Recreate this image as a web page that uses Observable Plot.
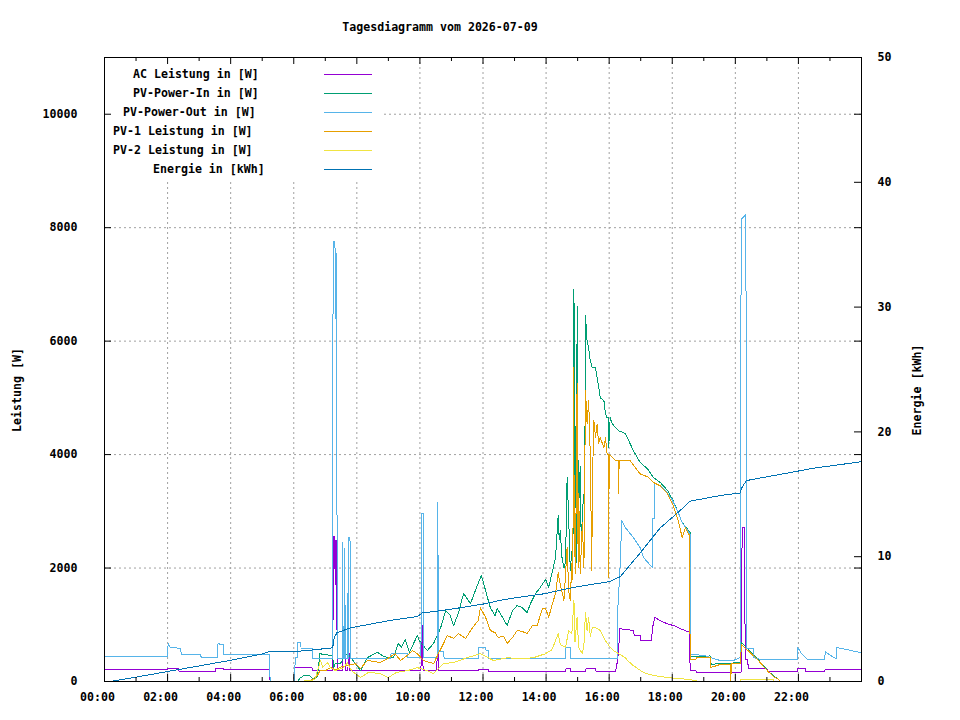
<!DOCTYPE html>
<html>
<head>
<meta charset="utf-8">
<script src="https://cdn.jsdelivr.net/npm/d3@7"></script>
<script src="https://cdn.jsdelivr.net/npm/@observablehq/plot@0.6"></script>
<style>
  body { margin: 0; background: #fff; }
  #chart { width: 960px; height: 720px; }
</style>
</head>
<body>
<div id="chart"></div>
<script>
// ---------- texts ----------
const title = "Tagesdiagramm vom 2026-07-09";
const yLabel = "Leistung [W]";
const y2Label = "Energie [kWh]";
const seriesNames = ["AC Leistung in [W]", "PV-Power-In in [W]", "PV-Power-Out in [W]",
                     "PV-1 Leistung in [W]", "PV-2 Leistung in [W]", "Energie in [kWh]"];

// ---------- tick values ----------
const leftTicks = [0, 2000, 4000, 6000, 8000, 10000];
const rightTicks = [0, 10, 20, 30, 40, 50];
const hourLabels = [0, 2, 4, 6, 8, 10, 12, 14, 16, 18, 20, 22];
const gridHours = [2, 4, 6, 8, 10, 12, 14, 16, 18, 20, 22, 24];
const minorHours = [1, 3, 5, 7, 9, 11, 13, 15, 17, 19, 21, 23];

// ---------- data [time, value] ----------
const acLeistung = [
["00:00",210],["02:00",210],["02:01",235],["02:21",235],["02:22",175],["03:31",175],["03:32",235],["03:46",235],["03:47",210],["05:14",210],["05:15",0],["06:01",0],["06:02",240],["06:35",240],["06:36",190],["07:14",190],["07:15",2550],["07:16",1100],["07:17",2550],["07:19",2480],["07:20",1700],["07:21",2480],["07:22",1200],["07:23",200],["07:33",200],["07:34",810],["07:37",780],["07:38",200],["07:43",200],["07:44",490],["07:46",490],["07:47",190],["10:02",190],["10:03",990],["10:05",990],["10:06",190],["10:32",190],["10:33",510],["10:35",510],["10:36",190],["11:51",190],["11:52",220],["12:10",220],["12:11",175],["14:37",180],["14:38",230],["14:46",230],["14:47",180],["15:15",180],["15:16",230],["15:34",230],["15:35",180],["16:12",180],["16:15",320],["16:18",545],["16:20",930],["16:46",900],["16:48",810],["16:59",810],["17:00",720],["17:21",720],["17:22",930],["17:27",1130],["17:37",1075],["17:51",1015],["18:05",980],["18:15",930],["18:33",870],["18:34",190],["18:45",190],["18:46",165],["20:11",165],["20:12",1430],["20:13",2710],["20:17",2710],["20:18",1450],["20:19",390],["20:23",390],["20:25",230],["21:00",230],["21:01",180],["21:58",180],["21:59",235],["22:13",235],["22:14",180],["22:50",180],["22:51",210],["23:58",210]
];
const pvPowerIn = [
["00:00",0],["06:07",0],["06:12",60],["06:20",110],["06:30",100],["06:38",40],["06:45",80],["06:50",500],["06:55",470],["07:04",470],["07:14",450],["07:16",250],["07:19",320],["07:29",320],["07:35",420],["07:42",490],["07:53",370],["08:07",190],["08:20",420],["08:39",515],["08:50",450],["08:58",420],["09:10",430],["09:19",670],["09:25",600],["09:32",740],["09:40",510],["09:55",810],["09:59",720],["10:14",545],["10:26",670],["10:39",935],["10:49",1250],["10:58",1160],["11:04",985],["11:13",1200],["11:23",1550],["11:30",1460],["11:36",1370],["11:49",1690],["11:57",1870],["12:05",1600],["12:10",1430],["12:14",1300],["12:23",1160],["12:27",1290],["12:37",1130],["12:46",985],["12:56",1250],["13:05",1340],["13:15",1300],["13:24",1215],["13:30",1370],["13:40",1550],["13:49",1660],["13:59",1800],["14:05",1660],["14:11",1900],["14:18",2190],["14:23",2920],["14:25",2500],["14:27",2660],["14:30",2200],["14:34",2000],["14:37",2100],["14:40",3600],["14:43",2890],["14:46",1960],["14:49",2300],["14:51",2000],["14:53",6920],["14:55",3000],["14:56",4500],["14:58",2100],["14:59",6620],["15:01",3500],["15:02",3070],["15:05",3800],["15:07",2300],["15:09",3000],["15:12",3300],["15:13",2300],["15:15",6450],["15:18",6000],["15:21",5880],["15:24",5660],["15:28",5530],["15:31",5530],["15:34",5530],["15:37",5360],["15:40",5200],["15:43",5000],["15:50",4950],["15:53",4720],["15:56",4650],["15:58",4650],["15:59",4120],["16:02",4650],["16:06",4540],["16:12",4480],["16:18",4420],["16:31",4370],["16:46",4070],["16:59",3860],["17:13",3750],["17:24",3600],["17:37",3510],["17:51",3370],["18:00",3220],["18:10",3010],["18:19",2800],["18:34",2630],["18:35",440],["19:12",450],["19:14",300],["19:31",320],["19:50",320],["20:09",340],["20:12",690],["20:29",520],["20:42",400],["21:01",200],["21:12",100],["21:20",50],["21:26",0],["23:58",0]
];
const pvPowerOut = [
["00:00",445],["02:00",445],["02:01",670],["02:05",600],["02:25",585],["02:26",470],["03:03",470],["03:04",420],["03:35",420],["03:36",680],["03:40",650],["03:46",650],["03:47",475],["05:14",475],["05:15",0],["06:01",0],["06:03",420],["06:07",420],["06:08",690],["06:13",690],["06:14",580],["06:35",580],["06:36",400],["07:13",400],["07:14",3370],["07:15",7750],["07:18",7750],["07:19",7540],["07:20",6400],["07:21",7540],["07:22",3930],["07:23",400],["07:32",400],["07:33",2450],["07:34",400],["07:36",400],["07:37",2340],["07:38",400],["07:42",400],["07:43",1550],["07:44",400],["07:45",2540],["07:47",2540],["07:48",400],["09:04",400],["09:05",490],["09:36",490],["09:37",420],["10:02",420],["10:03",2960],["10:06",2960],["10:07",420],["10:33",420],["10:34",3150],["10:35",1000],["10:36",530],["10:45",530],["10:46",410],["11:51",410],["11:52",600],["12:05",600],["12:06",550],["12:10",550],["12:11",400],["14:37",400],["14:38",600],["14:46",600],["14:47",400],["16:15",400],["16:17",1430],["16:20",1830],["16:24",2840],["16:31",2710],["16:46",2540],["16:59",2360],["17:05",2190],["17:22",2010],["17:23",2870],["17:26",2870],["17:27",3490],["17:37",3450],["17:51",3320],["18:00",3200],["18:10",3010],["18:19",2800],["18:34",2600],["18:35",480],["19:00",460],["19:31",370],["19:56",370],["20:09",420],["20:10",420],["20:11",8150],["20:20",8230],["20:21",3900],["20:22",580],["20:34",580],["20:35",420],["20:48",390],["21:58",390],["21:59",600],["22:05",500],["22:17",390],["22:50",390],["22:51",530],["23:01",460],["23:12",400],["23:13",600],["23:58",510]
];
const pv1Leistung = [
["00:00",0],["06:30",0],["06:45",105],["06:50",190],["07:00",190],["07:10",245],["07:20",200],["07:30",260],["07:42",280],["07:57",315],["08:07",230],["08:20",370],["08:45",335],["08:58",400],["09:13",490],["09:23",370],["09:36",460],["09:46",545],["09:55",490],["10:07",370],["10:26",315],["10:35",490],["10:45",670],["10:52",810],["11:04",760],["11:13",845],["11:27",760],["11:40",950],["11:51",1075],["11:55",1300],["12:05",1130],["12:14",900],["12:23",860],["12:29",775],["12:39",800],["12:46",670],["12:56",775],["13:05",900],["13:15",880],["13:24",845],["13:34",985],["13:43",985],["13:53",1290],["13:59",1290],["14:05",1130],["14:11",1340],["14:18",1550],["14:23",1920],["14:27",1700],["14:34",1430],["14:40",2360],["14:43",1600],["14:46",1430],["14:49",2080],["14:51",1800],["14:52",5530],["14:54",2200],["14:55",3000],["14:56",1900],["14:59",5250],["15:01",2000],["15:02",3310],["15:05",1900],["15:09",2800],["15:12",2000],["15:15",5130],["15:18",4540],["15:21",4950],["15:24",4020],["15:27",1950],["15:28",3500],["15:31",4600],["15:34",4300],["15:37",4540],["15:40",4190],["15:43",4300],["15:50",4120],["15:53",4300],["15:56",4020],["15:58",4000],["15:59",1830],["16:00",4000],["16:06",3950],["16:12",3900],["16:17",3900],["16:18",3310],["16:19",3900],["16:31",3900],["16:40",3890],["16:59",3660],["17:15",3600],["17:24",3510],["17:37",3450],["17:51",3310],["18:02",3100],["18:11",2840],["18:19",2540],["18:25",2710],["18:33",2570],["18:34",390],["18:45",390],["18:46",420],["19:12",420],["19:13",245],["19:31",300],["19:50",300],["19:51",0],["19:53",315],["20:09",315],["20:12",650],["20:29",500],["20:42",390],["21:01",190],["21:12",90],["21:20",50],["21:26",0],["23:58",0]
];
const pv2Leistung = [
["00:00",0],["06:10",0],["06:40",30],["06:51",370],["06:55",250],["07:04",335],["07:10",245],["07:19",190],["07:35",245],["07:42",335],["07:50",190],["08:07",70],["08:22",160],["08:45",140],["09:00",70],["09:15",160],["09:36",190],["09:55",245],["10:14",190],["10:26",140],["10:45",315],["11:04",335],["11:30",420],["11:55",490],["12:20",370],["12:46",420],["13:11",400],["13:36",420],["13:59",490],["14:11",560],["14:18",720],["14:23",845],["14:27",650],["14:37",600],["14:43",900],["14:49",845],["14:53",1430],["14:55",700],["14:59",1130],["15:02",600],["15:09",490],["15:12",650],["15:15",1220],["15:18",900],["15:21",1130],["15:24",800],["15:28",950],["15:34",950],["15:43",900],["15:53",720],["16:02",600],["16:08",545],["16:18",490],["16:31",420],["16:35",370],["16:46",280],["17:05",160],["17:24",105],["17:51",70],["18:15",50],["18:34",35],["18:50",0],["20:09",0],["20:10",35],["21:12",35],["21:13",0],["23:58",0]
];
const energie = [
["00:00",0],["00:11",0],["01:00",0.35],["02:00",0.8],["03:00",1.25],["04:00",1.7],["05:00",2.2],["05:14",2.4],["06:01",2.4],["06:30",2.5],["07:14",2.7],["07:17",3.5],["07:22",3.9],["07:48",4.3],["08:26",4.6],["09:04",4.9],["09:55",5.2],["10:05",5.5],["10:35",5.65],["11:00",5.8],["12:00",6.2],["12:33",6.5],["13:00",6.7],["14:00",7.05],["14:30",7.35],["15:00",7.6],["15:30",7.8],["16:00",8.0],["16:21",8.4],["16:59",10.3],["17:37",12.3],["18:15",13.7],["18:34",14.45],["19:31",14.9],["20:09",15.1],["20:12",15.5],["20:21",16.1],["21:00",16.4],["21:39",16.7],["22:30",17.1],["23:58",17.6]
];

// ---------- build ----------
const yMax = 11000, y2Max = 50;
const k2 = yMax / y2Max;              // kWh -> left-axis units
const toH = s => { const [h, m] = s.split(":").map(Number); return h + m / 60; };
const colors = ["#9400d3", "#009e73", "#56b4e9", "#e69f00", "#f0e442", "#0072b2"];
const dataSets = [acLeistung, pvPowerIn, pvPowerOut, pv1Leistung, pv2Leistung, energie];
const factors = [1, 1, 1, 1, 1, k2];

const width = 960, height = 720;
const mL = 104, mR = 99, mT = 57, mB = 39;
const W = width - mL - mR, H = height - mT - mB;
const font = "'DejaVu Sans Mono', 'Liberation Mono', monospace";

const gridStyle = {stroke: "#a0a0a0", strokeOpacity: 1, strokeWidth: 1, strokeDasharray: "2,3"};

const legendBg = () => {
  const g = d3.create("svg:g");
  g.append("rect").attr("x", mL + 1).attr("y", mT + 1).attr("width", 276).attr("height", 121).attr("fill", "white");
  return g.node();
};

const legendX = [133, 133, 123, 113, 113, 153];
const decorations = () => {
  const g = d3.create("svg:g")
    .attr("font-family", font).attr("font-size", 11.6).attr("font-weight", "bold")
    .attr("fill", "black").attr("text-anchor", "start");
  g.append("text").attr("x", 440).attr("y", 27).attr("dy", "0.35em").attr("text-anchor", "middle").text(title);
  g.append("text").attr("transform", "translate(17,390) rotate(-90)").attr("dy", "0.35em").attr("text-anchor", "middle").text(yLabel);
  g.append("text").attr("transform", "translate(917,390) rotate(-90)").attr("dy", "0.35em").attr("text-anchor", "middle").text(y2Label);
  seriesNames.forEach((name, i) => {
    const y = 74 + i * 19;
    g.append("text").attr("x", legendX[i]).attr("y", y).attr("dy", "0.35em").attr("text-anchor", "start").text(name);
    g.append("line").attr("x1", 324).attr("x2", 372).attr("y1", y + 0.5).attr("y2", y + 0.5)
      .attr("stroke", colors[i]).attr("stroke-width", 1).attr("shape-rendering", "crispEdges");
  });
  return g.node();
};

const chart = Plot.plot({
  width, height,
  marginLeft: mL, marginRight: mR, marginTop: mT, marginBottom: mB,
  x: {domain: [0, 24], axis: null},
  y: {domain: [0, yMax], axis: null},
  style: {fontFamily: font, fontSize: "11.6px", fontWeight: "bold", background: "white", color: "black"},
  marks: [
    Plot.gridX(gridHours, {x: d => d, ...gridStyle}),
    Plot.gridY(leftTicks.filter(d => d > 0), {y: d => d, ...gridStyle}),
    legendBg,
    ...dataSets.map((ds, i) => Plot.line(ds, {
      x: d => toH(d[0]), y: d => d[1] * factors[i],
      stroke: colors[i], strokeWidth: 1, shapeRendering: "crispEdges"
    })),
    Plot.frame({stroke: "black", shapeRendering: "crispEdges"}),
    Plot.tickX(gridHours, {x: d => d, insetTop: H - 7, stroke: "black"}),
    Plot.tickX(minorHours, {x: d => d, insetTop: H - 4, stroke: "black"}),
    Plot.tickX(gridHours, {x: d => d, insetBottom: H - 7, stroke: "black"}),
    Plot.tickX(minorHours, {x: d => d, insetBottom: H - 4, stroke: "black"}),
    Plot.tickY(leftTicks, {y: d => d, insetRight: W - 7, stroke: "black"}),
    Plot.tickY(leftTicks, {y: d => d, insetLeft: W - 7, stroke: "black"}),
    Plot.tickY(rightTicks.map(d => d * k2), {y: d => d, insetLeft: W - 7, stroke: "black"}),
    Plot.axisX(hourLabels, {tickSize: 0, tickPadding: 11, dx: -7, label: null,
      tickFormat: h => String(h).padStart(2, "0") + ":00"}),
    Plot.axisY(leftTicks, {anchor: "left", tickSize: 0, tickPadding: 27, label: null,
      tickFormat: d => String(d)}),
    Plot.axisY(rightTicks.map(d => d * k2), {anchor: "right", tickSize: 0, tickPadding: 16, label: null,
      tickFormat: d => String(Math.round(d / k2))}),
    decorations
  ]
});
document.getElementById("chart").appendChild(chart);
</script>
</body>
</html>
